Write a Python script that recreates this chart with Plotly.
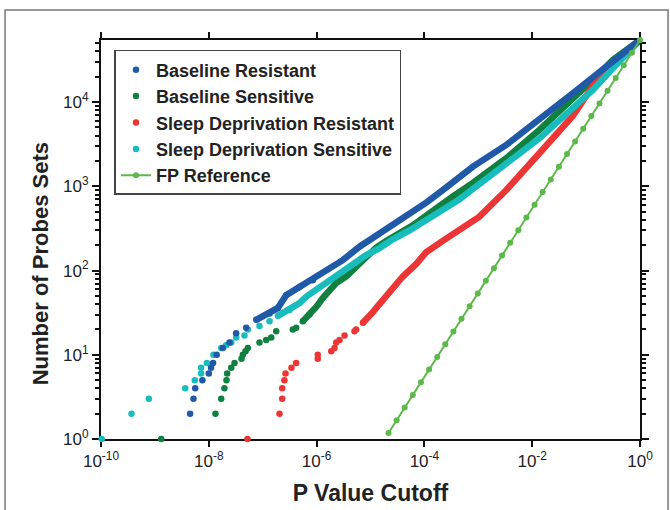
import plotly.graph_objects as go

# ---------------- data ----------------
N_TOTAL = 54675

blue_dot_p = [4.5e-9, 5.2e-9, 5.6e-9, 7.6e-9, 1.0e-8, 1.1e-8, 1.2e-8, 1.4e-8, 1.82e-8, 2.42e-8,
              3.22e-8, 4.94e-8, 7.59e-8, 1.34e-7, 1.91e-7, 2.73e-7, 4.82e-7, 8.51e-7]
blue_dot_n = [2, 3, 4, 5, 6, 7, 8, 10, 12, 14, 18, 21, 26, 31, 36, 51, 64, 77]
blue_line_p = [7.59e-8, 1.34e-7, 1.91e-7, 2.73e-7, 4.82e-7, 8.51e-7, 1.51e-6, 3.06e-6, 6.25e-6,
               1.28e-5, 2.59e-5, 5.28e-5, 1.08e-4, 2.19e-4, 4.48e-4, 7.94e-4, 3.31e-3, 1.36e-2,
               5.66e-2, 0.236, 0.734, 1.0]
blue_line_n = [26, 31, 36, 51, 64, 77, 101, 133, 192, 260, 340, 450, 640, 900, 1250, 1714, 3100,
               6150, 12760, 26300, 47800, 54675]

green_dot_p = [1.31e-9, 1.33e-8, 1.70e-8, 1.95e-8, 2.13e-8, 2.19e-8, 2.61e-8, 3.00e-8, 4.05e-8,
               4.28e-8, 4.80e-8, 5.30e-8, 8.71e-8, 1.16e-7, 1.44e-7, 1.78e-7, 3.62e-7, 4.18e-7,
               5.55e-7, 7.38e-7]
green_dot_n = [1, 2, 3, 4, 5, 6, 7, 8, 9, 10, 11, 12, 14, 15, 16, 19, 20, 21, 25, 30]
green_line_p = [5.55e-7, 7.38e-7, 9.84e-7, 1.30e-6, 1.61e-6, 2.31e-6, 3.54e-6, 5.43e-6, 8.32e-6,
                1.28e-5, 1.95e-5, 3.45e-5, 6.10e-5, 1.08e-4, 1.91e-4, 3.37e-4, 7.94e-4, 3.31e-3,
                1.36e-2, 5.66e-2, 0.133, 0.313, 1.0]
green_line_n = [25, 30, 37, 47, 56, 71, 85, 111, 152, 188, 225, 275, 345, 450, 600, 760, 1100,
                2157, 4680, 10620, 18370, 31700, 54675]

red_dot_p = [5.22e-8, 2.05e-7, 2.30e-7, 2.30e-7, 2.53e-7, 2.65e-7, 3.42e-7, 4.18e-7, 1.05e-6,
             1.05e-6, 1.87e-6, 2.15e-6, 2.31e-6, 2.66e-6, 3.30e-6, 5.05e-6, 5.43e-6, 7.24e-6]
red_dot_n = [1, 2, 3, 4, 5, 6, 7, 8, 9, 10, 11, 12, 14, 15, 17, 19, 20, 24]
red_line_p = [7.24e-6, 8.32e-6, 1.10e-5, 1.28e-5, 1.70e-5, 2.59e-5, 3.98e-5, 7.05e-5, 1.08e-4,
              2.19e-4, 4.48e-4, 1.05e-3, 2.15e-3, 3.31e-3, 1.36e-2, 5.66e-2, 0.133, 0.313, 1.0]
red_line_n = [24, 26, 32, 36, 45, 62, 85, 120, 165, 225, 300, 437, 689, 906, 2470, 6860, 15500,
              29000, 54675]

cyan_dot_p = [1.03e-10, 3.68e-10, 7.71e-10, 3.65e-9, 5.5e-9, 7.2e-9, 7.2e-9, 9.2e-9, 1.22e-8,
              1.70e-8, 2.10e-8, 2.61e-8, 3.22e-8, 4.59e-8, 5.30e-8, 8.71e-8, 1.34e-7, 1.91e-7,
              3.14e-7]
cyan_dot_n = [1, 2, 3, 4, 5, 6, 7, 8, 10, 12, 13, 14, 16, 17, 20, 22, 25, 29, 34]
cyan_line_p = [1.91e-7, 3.14e-7, 4.82e-7, 6.41e-7, 9.84e-7, 1.51e-6, 2.0e-6, 3.54e-6, 5.43e-6,
               8.32e-6, 1.47e-5, 2.59e-5, 5.28e-5, 1.08e-4, 2.19e-4, 4.48e-4, 7.94e-4, 3.31e-3,
               1.36e-2, 5.66e-2, 0.133, 0.313, 0.734, 1.0]
cyan_line_n = [29, 34, 41, 49, 59, 71, 81, 101, 128, 153, 185, 235, 300, 400, 530, 700, 930, 1880,
               3720, 8470, 13960, 25300, 45700, 54675]

fp_p = [1.0, 0.70711, 0.5, 0.35355, 0.25, 0.17678, 0.125, 0.088388, 0.0625, 0.044194, 0.03125,
        0.022097, 0.015625, 0.011049, 0.0078125, 0.0055243, 0.0039063, 0.0027621, 0.0019531,
        0.0013811, 0.00097656, 0.00069053, 0.00048828, 0.00034527, 0.00024414, 0.00017263,
        0.00012207, 8.6316e-5, 6.1035e-5, 4.3158e-5, 3.0518e-5, 2.1579e-5]
fp_n = [54675, 38661, 27338, 19331, 13669, 9665, 6834, 4833, 3417, 2416, 1709, 1208, 854.3, 604.1,
        427.1, 302.0, 213.6, 151.0, 106.8, 75.51, 53.39, 37.76, 26.70, 18.88, 13.35, 9.439, 6.674,
        4.719, 3.337, 2.360, 1.669, 1.180]

x_tickvals = [1e-10, 1e-8, 1e-6, 1e-4, 1e-2, 1]
x_ticktext = ["10<sup>-10</sup>", "10<sup>-8</sup>", "10<sup>-6</sup>", "10<sup>-4</sup>",
              "10<sup>-2</sup>", "10<sup>0</sup>"]
y_tickvals = [1, 10, 100, 1000, 10000]
y_ticktext = ["10<sup>0</sup>", "10<sup>1</sup>", "10<sup>2</sup>", "10<sup>3</sup>",
              "10<sup>4</sup>"]

series = [
    ("Baseline Resistant", "#1f59a8", blue_dot_p, blue_dot_n, blue_line_p, blue_line_n),
    ("Baseline Sensitive", "#0f8040", green_dot_p, green_dot_n, green_line_p, green_line_n),
    ("Sleep Deprivation Resistant", "#ee3535", red_dot_p, red_dot_n, red_line_p, red_line_n),
    ("Sleep Deprivation Sensitive", "#17bdbd", cyan_dot_p, cyan_dot_n, cyan_line_p, cyan_line_n),
]

FONT = "Liberation Sans, Arial, sans-serif"

fig = go.Figure()

order = [1, 2, 3, 0]
for i in order:
    name, col, dp, dn, lp, ln = series[i]
    fig.add_trace(go.Scatter(x=lp, y=ln, mode="lines", line=dict(color=col, width=6.5),
                             legendgroup=name, showlegend=False, hoverinfo="skip"))
    fig.add_trace(go.Scatter(x=dp, y=dn, mode="markers", name="<b>" + name + "</b>",
                             marker=dict(color=col, size=6.5), legendgroup=name,
                             cliponaxis=False, legendrank=i + 1))

fig.add_trace(go.Scatter(x=fp_p, y=fp_n, mode="lines+markers", name="<b>FP Reference</b>",
                         line=dict(color="#5cb848", width=2),
                         marker=dict(color="#5cb848", size=6), legendrank=5, cliponaxis=False))

axis_common = dict(
    type="log", showgrid=False, zeroline=False, showline=True, linecolor="#111", linewidth=2,
    ticks="outside", tickcolor="#111", tickwidth=2, mirror="ticks", automargin=False,
    tickfont=dict(family=FONT, size=17, color="#222"), layer="below traces",
)

fig.update_xaxes(**axis_common, range=[-10, 0], tickvals=x_tickvals, ticktext=x_ticktext,
                 ticklen=6,
                 title=dict(text="<b>P Value Cutoff</b>", font=dict(family=FONT, size=23, color="#222"),
                            standoff=14))
fig.update_yaxes(**axis_common, range=[0, 4.7378], tickvals=y_tickvals, ticktext=y_ticktext,
                 ticklen=7,
                 minor=dict(ticks="outside", ticklen=4, tickcolor="#111", tickwidth=1.5, dtick="D1",
                            showgrid=False))

fig.update_layout(
    width=670, height=510,
    margin=dict(l=101, r=30, t=40, b=71, autoexpand=False),
    paper_bgcolor="white", plot_bgcolor="white",
    legend=dict(x=0.025, y=0.975, xanchor="left", yanchor="top",
                bordercolor="#444", borderwidth=1.5, bgcolor="white",
                font=dict(family=FONT, size=18, color="#222"),
                itemwidth=30, tracegroupgap=0, traceorder="normal"),
    font=dict(family=FONT),
    annotations=[dict(text="<b>Number of Probes Sets</b>", xref="paper", yref="paper",
                      x=-0.113, y=0.438, xanchor="center", yanchor="middle", textangle=-90,
                      showarrow=False, font=dict(family=FONT, size=22, color="#222"))],
    shapes=[dict(type="rect", xref="paper", yref="paper", x0=-0.178, x1=1.052, y0=-0.19, y1=1.075,
                 line=dict(color="#777", width=1.5), fillcolor="rgba(0,0,0,0)", layer="below")],
)

fig.write_html("out.html", config={"displayModeBar": False},
               post_script="document.body.style.margin='0';document.body.style.overflow='hidden';")
